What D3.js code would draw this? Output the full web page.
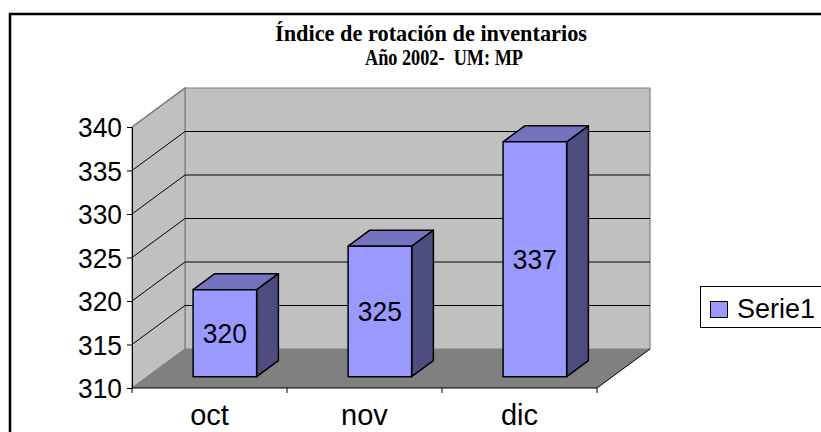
<!DOCTYPE html>
<html>
<head>
<meta charset="utf-8">
<script src="https://cdn.jsdelivr.net/npm/d3@7"></script>
<style>
  html, body { margin: 0; padding: 0; background: #fff; }
  svg { display: block; }
  text { white-space: pre; }
</style>
</head>
<body>
<svg id="chart" width="821" height="432"></svg>
<script>
const categories = ["oct", "nov", "dic"];
const values = [320, 325, 337];
const yTicks = [310, 315, 320, 325, 330, 335, 340];
const seriesName = "Serie1";
const titleLines = ["Índice de rotación de inventarios", "Año 2002-  UM: MP"];

const svg = d3.select("#chart");
const SANS = "Liberation Sans, Arial, sans-serif";

// outer chart border
svg.append("rect").attr("x", 10).attr("y", 14).attr("width", 830).attr("height", 440)
  .attr("fill", "#fff").attr("stroke", "#000").attr("stroke-width", 2.5);

// scales
const x = d3.scaleBand().domain(categories).range([132, 597]).padding(0);
const y = d3.scaleLinear().domain([310, 340]).range([388, 127]);
const DX = 53, DY = -39;           // full depth offset of plot
const P = (px, py, d) => [px + DX * d, py + DY * d];

const x0 = x.range()[0], x1 = x.range()[1];
const yb = y(310), yt = y(340);

// walls
const wallFill = "#C0C0C0", floorFill = "#808080", edge = "#808080";
const poly = pts => pts.map(p => p.join(",")).join(" ");
svg.append("polygon").attr("points", poly([P(x0, yt, 1), P(x1, yt, 1), P(x1, yb, 1), P(x0, yb, 1)]))
  .attr("fill", wallFill).attr("stroke", edge).attr("stroke-width", 1.2);
svg.append("polygon").attr("points", poly([P(x0, yt, 0), P(x0, yt, 1), P(x0, yb, 1), P(x0, yb, 0)]))
  .attr("fill", wallFill).attr("stroke", edge).attr("stroke-width", 1.2);

// gridlines
const gl = svg.append("g").attr("stroke", "#000").attr("stroke-width", 1).attr("fill", "none");
yTicks.filter(t => t !== 310 && t !== 340).forEach(t => {
  gl.append("polyline").attr("points", poly([P(x0, y(t), 0), P(x0, y(t), 1), P(x1, y(t), 1)]));
});
svg.append("line").attr("x1", x0).attr("y1", yt).attr("x2", P(x0, yt, 1)[0]).attr("y2", P(x0, yt, 1)[1])
  .attr("stroke", edge).attr("stroke-width", 1.2);

// floor
svg.append("polygon").attr("points", poly([P(x0, yb, 0), P(x0, yb, 1), P(x1, yb, 1), P(x1, yb, 0)]))
  .attr("fill", floorFill).attr("stroke", "none");
svg.append("line").attr("x1", x1).attr("y1", yb).attr("x2", P(x1, yb, 1)[0]).attr("y2", P(x1, yb, 1)[1])
  .attr("stroke", "#000").attr("stroke-width", 1);

// bars
const dFront = 0.29, dBack = 0.70;
const barW = x.bandwidth() * 0.41;
const colFront = "#9999FF", colTop = "#7373BF", colSide = "#4D4D80";
const bars = svg.append("g");
categories.forEach((c, i) => {
  const v = values[i];
  const cx = x(c) + x.bandwidth() / 2;
  const l = cx - barW / 2, r = cx + barW / 2;
  const top = y(v), bot = y(310);
  const g = bars.append("g").attr("stroke", "#000").attr("stroke-width", 1.5).attr("stroke-linejoin", "round");
  g.append("polygon").attr("points", poly([P(r, top, dFront), P(r, top, dBack), P(r, bot, dBack), P(r, bot, dFront)]))
    .attr("fill", colSide);
  g.append("polygon").attr("points", poly([P(l, top, dFront), P(l, top, dBack), P(r, top, dBack), P(r, top, dFront)]))
    .attr("fill", colTop);
  g.append("polygon").attr("points", poly([P(l, top, dFront), P(r, top, dFront), P(r, bot, dFront), P(l, bot, dFront)]))
    .attr("fill", colFront);
  const lp = P(cx, (top + bot) / 2, dFront);
  svg.append("text").attr("x", lp[0]).attr("y", lp[1]).attr("text-anchor", "middle")
    .attr("dominant-baseline", "central")
    .attr("font-family", SANS).attr("font-size", 28)
    .attr("textLength", 44).attr("lengthAdjust", "spacingAndGlyphs")
    .attr("fill", "#000").text(v);
});

// y axis
const yAxis = d3.axisLeft(y).tickValues(yTicks).tickSize(5).tickPadding(5).tickFormat(d3.format("d"));
const ya = svg.append("g").attr("transform", `translate(${x0},0)`).call(yAxis);
ya.select(".domain").attr("stroke", "#000").attr("stroke-width", 1);
ya.selectAll(".tick line").attr("stroke", "#000");
ya.selectAll(".tick text").attr("font-family", SANS)
  .attr("font-size", 27).attr("fill", "#000").attr("dy", "0.36em")
  .attr("textLength", 44).attr("lengthAdjust", "spacingAndGlyphs");

// x axis (category)
svg.append("line").attr("x1", x0).attr("x2", x1).attr("y1", yb).attr("y2", yb)
  .attr("stroke", "#000").attr("stroke-width", 1);
const xt = svg.append("g");
categories.map(c => x(c)).concat([x1]).forEach(t => {
  xt.append("line").attr("x1", t).attr("x2", t).attr("y1", yb).attr("y2", yb + 5)
    .attr("stroke", "#000").attr("stroke-width", 1);
});
categories.forEach(c => {
  svg.append("text").attr("x", x(c) + x.bandwidth() / 2).attr("y", 425)
    .attr("text-anchor", "middle").attr("font-family", SANS)
    .attr("font-size", 29).attr("fill", "#000").text(c);
});

// title
const tX = [431, 444], tY = [40.5, 65], tW = [312, 158];
titleLines.forEach((t, i) => {
  svg.append("text").attr("x", tX[i]).attr("y", tY[i]).attr("text-anchor", "middle")
    .attr("font-family", "Liberation Serif, Times New Roman, serif").attr("font-weight", "bold")
    .attr("font-size", 24).attr("fill", "#000")
    .attr("textLength", tW[i]).attr("lengthAdjust", "spacingAndGlyphs")
    .text(t);
});

// legend
const lg = svg.append("g");
lg.append("rect").attr("x", 700.5).attr("y", 286.5).attr("width", 140).attr("height", 41)
  .attr("fill", "#fff").attr("stroke", "#000").attr("stroke-width", 1);
lg.append("rect").attr("x", 710.5).attr("y", 301.5).attr("width", 17).attr("height", 16)
  .attr("fill", colFront).attr("stroke", "#000").attr("stroke-width", 1);
lg.append("text").attr("x", 737).attr("y", 318).attr("font-family", SANS)
  .attr("font-size", 27).attr("fill", "#000")
  .attr("textLength", 78).attr("lengthAdjust", "spacingAndGlyphs").text(seriesName);
</script>
</body>
</html>
